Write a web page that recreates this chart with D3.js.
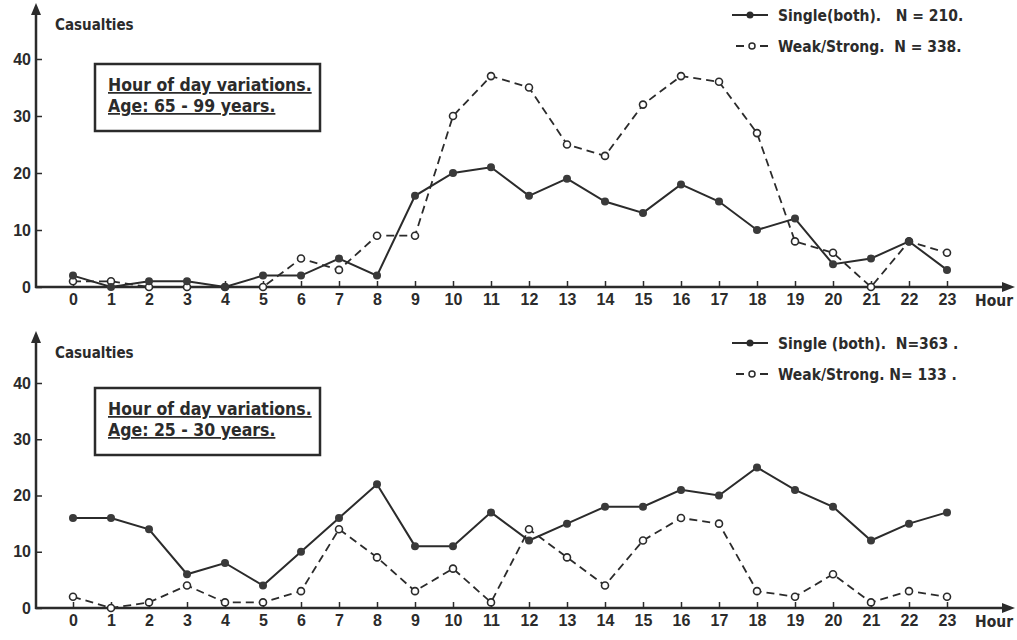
<!DOCTYPE html>
<html>
<head>
<meta charset="utf-8">
<script src="https://cdn.jsdelivr.net/npm/d3@7.9.0/dist/d3.min.js"></script>
<style>
  body { margin: 0; background: #fff; }
  svg { display: block; font-family: "DejaVu Sans Condensed", "DejaVu Sans", sans-serif; font-weight: bold; }
  .tick text { fill: #2b2b2b; }
</style>
</head>
<body>
<div id="chart"></div>
<script>
const hours = d3.range(0, 24);
const yTicks = [0, 10, 20, 30, 40];

// Age 65-99
const oldSingle = [2, 0, 1, 1, 0, 2, 2, 5, 2, 16, 20, 21, 16, 19, 15, 13, 18, 15, 10, 12, 4, 5, 8, 3];
const oldWeak   = [1, 1, 0, 0, 0, 0, 5, 3, 9, 9, 30, 37, 35, 25, 23, 32, 37, 36, 27, 8, 6, 0, 8, 6];

// Age 25-30
const youngSingle = [16, 16, 14, 6, 8, 4, 10, 16, 22, 11, 11, 17, 12, 15, 18, 18, 21, 20, 25, 21, 18, 12, 15, 17];
const youngWeak   = [2, 0, 1, 4, 1, 1, 3, 14, 9, 3, 7, 1, 14, 9, 4, 12, 16, 15, 3, 2, 6, 1, 3, 2];

const panels = [
  { title: ['Hour of day variations.', 'Age: 65 - 99 years.'],
    legend: ['Single(both).   N = 210.', 'Weak/Strong.  N = 338.'],
    single: oldSingle, weak: oldWeak, y0: 287, y40: 59, top: 3 },
  { title: ['Hour of day variations.', 'Age: 25 - 30 years.'],
    legend: ['Single (both).  N=363 .', 'Weak/Strong. N= 133 .'],
    single: youngSingle, weak: youngWeak, y0: 608, y40: 383, top: 331 }
];

const width = 1017, height = 640;
const ink = '#2b2b2b';
const axisX = 36;

const svg = d3.select('#chart').append('svg')
  .attr('width', width).attr('height', height);

const x = d3.scaleLinear().domain([0, 23]).range([73, 947]);

function drawPanel(p) {
  const y = d3.scaleLinear().domain([0, 40]).range([p.y0, p.y40]);
  const g = svg.append('g');

  // x axis
  const xa = g.append('g')
    .attr('transform', `translate(0,${p.y0})`)
    .call(d3.axisBottom(x).tickValues(hours).tickSizeInner(-6).tickSizeOuter(0).tickPadding(7));
  xa.select('.domain').remove();
  xa.selectAll('.tick line').attr('stroke', ink).attr('stroke-width', 1.5);
  xa.selectAll('.tick text').attr('font-size', 16).attr('font-family', 'inherit');

  // y axis
  const ya = g.append('g')
    .attr('transform', `translate(${axisX},0)`)
    .call(d3.axisLeft(y).tickValues(yTicks).tickSizeInner(-6).tickSizeOuter(0).tickPadding(5));
  ya.select('.domain').remove();
  ya.selectAll('.tick line').attr('stroke', ink).attr('stroke-width', 1.5);
  ya.selectAll('.tick text').attr('font-size', 16).attr('font-family', 'inherit');

  // axis lines with arrows
  g.append('line').attr('x1', axisX).attr('x2', axisX).attr('y1', p.y0 + 1).attr('y2', p.top + 8)
    .attr('stroke', ink).attr('stroke-width', 2.5);
  g.append('path')
    .attr('d', `M${axisX - 5},${p.top + 12} L${axisX},${p.top} L${axisX + 5},${p.top + 12} Z`)
    .attr('fill', ink);
  g.append('line').attr('x1', axisX - 1).attr('x2', 1006).attr('y1', p.y0).attr('y2', p.y0)
    .attr('stroke', ink).attr('stroke-width', 2.5);
  g.append('path')
    .attr('d', `M1002,${p.y0 - 5} L1015,${p.y0} L1002,${p.y0 + 5} Z`)
    .attr('fill', ink);

  g.append('text').attr('x', 975).attr('y', p.y0 + 19).attr('font-size', 15.5).attr('fill', ink).text('Hour');
  g.append('text').attr('x', 55).attr('y', p.top + 27).attr('font-size', 15).attr('fill', ink).text('Casualties');

  // title box
  g.append('rect').attr('x', 95).attr('y', p.y40 + 5).attr('width', 225).attr('height', 67)
    .attr('fill', '#fff').attr('stroke', ink).attr('stroke-width', 2.5);
  p.title.forEach((t, i) => {
    g.append('text').attr('x', 108).attr('y', p.y40 + 32 + i * 21)
      .attr('font-size', 17.5).attr('fill', ink)
      .attr('text-decoration', 'underline').text(t);
  });

  // lines
  const line = d3.line().x((d, i) => x(hours[i])).y(d => y(d));
  g.append('path').datum(p.weak).attr('d', line)
    .attr('fill', 'none').attr('stroke', ink).attr('stroke-width', 1.8).attr('stroke-dasharray', '8,5');
  g.append('path').datum(p.single).attr('d', line)
    .attr('fill', 'none').attr('stroke', ink).attr('stroke-width', 2);

  g.append('g').selectAll('circle').data(p.weak).join('circle')
    .attr('cx', (d, i) => x(hours[i])).attr('cy', d => y(d)).attr('r', 3.5)
    .attr('fill', '#fff').attr('stroke', ink).attr('stroke-width', 1.6);
  g.append('g').selectAll('circle').data(p.single).join('circle')
    .attr('cx', (d, i) => x(hours[i])).attr('cy', d => y(d)).attr('r', 4)
    .attr('fill', '#3a3a3a');

  // legend
  const ly = [p.top + 12, p.top + 43];
  g.append('line').attr('x1', 732).attr('x2', 768).attr('y1', ly[0]).attr('y2', ly[0])
    .attr('stroke', ink).attr('stroke-width', 2);
  g.append('circle').attr('cx', 750).attr('cy', ly[0]).attr('r', 3.5).attr('fill', ink);
  [[736, 744], [760, 768]].forEach(([a, b]) => {
    g.append('line').attr('x1', a).attr('x2', b).attr('y1', ly[1]).attr('y2', ly[1])
      .attr('stroke', ink).attr('stroke-width', 2);
  });
  g.append('circle').attr('cx', 752).attr('cy', ly[1]).attr('r', 3)
    .attr('fill', '#fff').attr('stroke', ink).attr('stroke-width', 1.5);
  p.legend.forEach((t, i) => {
    g.append('text').attr('x', 778).attr('y', ly[i] + 6)
      .attr('font-size', 15.5).attr('fill', ink)
      .style('white-space', 'pre').text(t);
  });
}

panels.forEach(drawPanel);
</script>
</body>
</html>
